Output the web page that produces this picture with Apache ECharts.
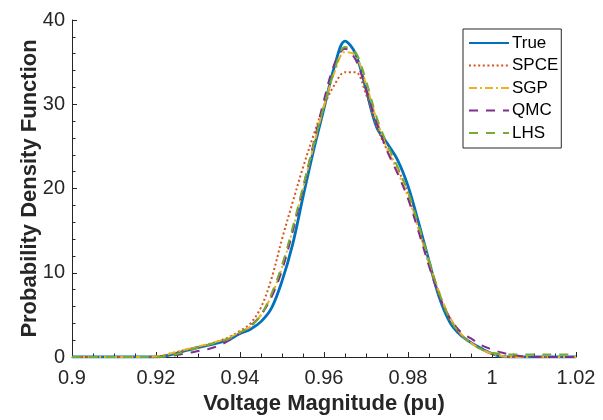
<!DOCTYPE html>
<html lang="en">
<head>
    <meta charset="UTF-8">
    <title>PDF of voltage magnitude</title>
    <script src="https://cdn.jsdelivr.net/npm/echarts@6/dist/echarts.min.js"></script>
    <style>
        html, body { margin: 0; padding: 0; background: #fff; }
        #main { width: 603px; height: 420px; }
    </style>
</head>
<body>
    <div id="main"></div>
    <script>
        // voltage (pu) sample points, shared by all curves
        var xs = [0.900, 0.905, 0.910, 0.915, 0.920, 0.9225, 0.925, 0.9275, 0.930, 0.9325, 0.935, 0.9375,
            0.940, 0.9425, 0.945, 0.9475, 0.950, 0.9525, 0.955, 0.9575, 0.960, 0.9625, 0.965, 0.9675,
            0.970, 0.9725, 0.975, 0.9775, 0.980, 0.9825, 0.985, 0.9875, 0.990, 0.9925, 0.995, 0.9975,
            1.000, 1.0025, 1.005, 1.0075, 1.010, 1.015, 1.020];

        var trueVals = [0, 0, 0, 0, 0, 0.15, 0.45, 0.8, 1.1, 1.4, 1.7, 2.1,
            2.8, 3.3, 4.2, 5.8, 9.0, 13.3, 19.0, 24.5, 29.5, 34.5, 37.5, 36.0,
            31.8, 27.3, 25.4, 23.4, 20.3, 16.0, 11.4, 7.0, 4.1, 2.6, 1.7, 1.0,
            0.4, 0.05, 0, 0, 0, 0, 0];
        var spceVals = [0, 0, 0, 0, 0.05, 0.3, 0.6, 0.9, 1.2, 1.5, 1.9, 2.4,
            3.1, 4.0, 5.9, 9.3, 14.0, 18.3, 22.5, 26.3, 29.8, 32.3, 33.8, 33.8,
            31.2, 27.4, 24.6, 22.4, 19.4, 15.4, 11.0, 7.2, 4.4, 2.7, 1.7, 0.9,
            0.35, 0.1, 0, 0, 0, 0, 0];
        var sgpVals = [0, 0, 0, 0, 0.05, 0.3, 0.6, 0.95, 1.25, 1.55, 1.9, 2.3,
            3.0, 3.6, 5.0, 7.3, 10.6, 15.0, 20.0, 25.0, 29.8, 33.8, 36.2, 35.8,
            32.4, 28.2, 24.8, 22.0, 19.0, 15.2, 11.3, 7.6, 4.7, 2.8, 1.7, 0.9,
            0.4, 0.1, 0, 0, 0, 0, 0];
        var qmcVals = [0, 0, 0, 0, 0, 0.05, 0.25, 0.45, 0.7, 0.95, 1.35, 2.0,
            2.8, 3.7, 5.0, 7.1, 10.3, 14.8, 20.0, 25.3, 30.5, 34.8, 36.6, 35.3,
            31.8, 27.9, 24.5, 21.8, 18.8, 14.9, 10.8, 7.2, 4.6, 3.0, 2.2, 1.4,
            0.9, 0.5, 0.25, 0.05, 0, 0, 0];
        var lhsVals = [0, 0, 0, 0, 0, 0.1, 0.35, 0.75, 1.1, 1.45, 1.8, 2.2,
            2.9, 3.6, 5.0, 7.5, 10.9, 15.3, 20.2, 25.1, 29.8, 34.0, 36.8, 36.2,
            32.8, 28.5, 25.3, 22.6, 19.6, 15.7, 11.5, 7.5, 4.5, 2.7, 1.6, 0.9,
            0.5, 0.35, 0.3, 0.3, 0.3, 0.3, 0.3];

        var names = ['True', 'SPCE', 'SGP', 'QMC', 'LHS'];
        var colors = ['#0072BD', '#D95319', '#EDB120', '#7E2F8E', '#77AC30'];
        var xTicks = [0.9, 0.92, 0.94, 0.96, 0.98, 1, 1.02];
        var yTicks = [0, 10, 20, 30, 40];

        var font = '"Liberation Sans", Arial, Helvetica, sans-serif';
        var ink = '#262626';

        function pairs(ys) {
            return xs.map(function (x, i) { return [x, ys[i]]; });
        }

        var styles = [
            { width: 2.8, type: 'solid' },
            { width: 2, type: [2, 2.6] },
            { width: 2, type: [8, 3, 2, 3] },
            { width: 2, type: [9, 8] },
            { width: 2, type: [9, 8] }
        ];
        var allVals = [trueVals, spceVals, sgpVals, qmcVals, lhsVals];

        var series = names.map(function (n, k) {
            return {
                name: n,
                type: 'line',
                data: pairs(allVals[k]),
                smooth: 0.35,
                symbol: 'none',
                color: colors[k],
                lineStyle: { color: colors[k], width: styles[k].width, type: styles[k].type },
                emphasis: { disabled: true }
            };
        });

        var chart = echarts.init(document.getElementById('main'));
        chart.setOption({
            animation: false,
            backgroundColor: '#fff',
            textStyle: { fontFamily: font },
            grid: { left: 72, right: 27, top: 20, bottom: 61 },
            legend: {
                data: names,
                orient: 'vertical',
                left: 463,
                top: 29,
                padding: [5, 3, 6, 5],
                itemWidth: 40,
                itemHeight: 14,
                itemGap: 4.5,
                backgroundColor: '#fff',
                borderColor: ink,
                borderWidth: 1,
                borderRadius: 0,
                itemStyle: { opacity: 0 },
                textStyle: { fontFamily: font, fontSize: 17, color: '#000', lineHeight: 18, padding: [0, 0, 0, -2] }
            },
            xAxis: {
                type: 'value',
                min: xTicks[0],
                max: xTicks[xTicks.length - 1],
                interval: 0.02,
                name: 'Voltage Magnitude (pu)',
                nameLocation: 'middle',
                nameGap: 36,
                nameMoveOverlap: false,
                nameTextStyle: { fontFamily: font, fontSize: 22, fontWeight: 'bold', color: ink },
                axisLine: { show: true, lineStyle: { color: ink, width: 1 } },
                axisTick: { show: true, inside: true, length: 5, lineStyle: { color: ink } },
                minorTick: { show: true, splitNumber: 4, length: 3.5, lineStyle: { color: ink } },
                axisLabel: { fontFamily: font, fontSize: 20, color: ink, margin: 11 },
                splitLine: { show: false }
            },
            yAxis: {
                type: 'value',
                min: yTicks[0],
                max: yTicks[yTicks.length - 1],
                interval: 10,
                name: 'Probability Density Function',
                nameLocation: 'middle',
                nameGap: 31,
                nameMoveOverlap: false,
                nameTextStyle: { fontFamily: font, fontSize: 22, fontWeight: 'bold', color: ink },
                axisLine: { show: true, lineStyle: { color: ink, width: 1 } },
                axisTick: { show: true, inside: true, length: 5, lineStyle: { color: ink } },
                minorTick: { show: true, splitNumber: 5, length: 3.5, lineStyle: { color: ink } },
                axisLabel: { fontFamily: font, fontSize: 20, color: ink, margin: 7 },
                splitLine: { show: false }
            },
            series: series
        });
    </script>
</body>
</html>
